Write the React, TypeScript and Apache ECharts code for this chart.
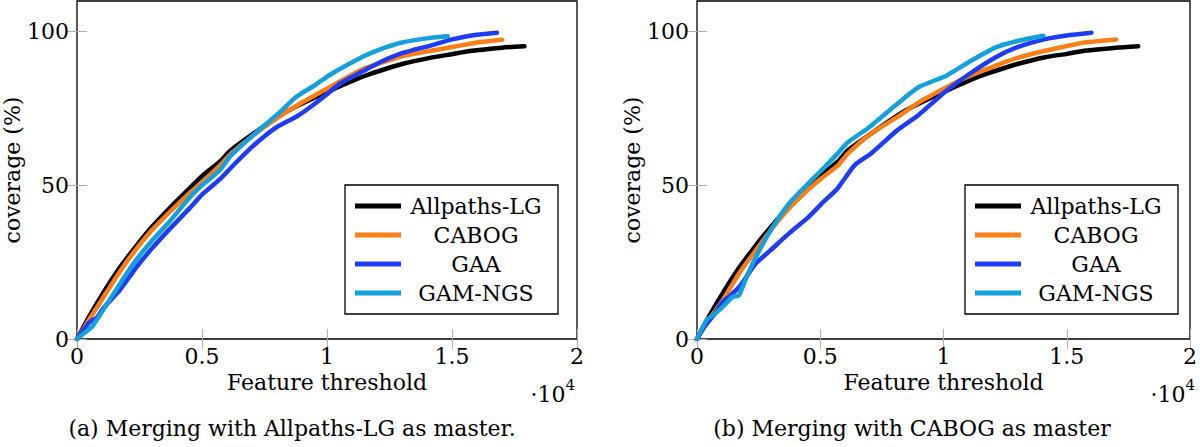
import React, { useEffect, useRef } from "react";
import * as echarts from "echarts";

const seriesNames = ["Allpaths-LG", "CABOG", "GAA", "GAM-NGS"];
const seriesColors = ["#000000", "#fd7e14", "#1f3cf5", "#14a0dc"];
const xTickValues = [0, 5000, 10000, 15000, 20000];
const yTickValues = [0, 50, 100];

// Panel (a): merging with Allpaths-LG as master
const allpathsA = [[0,0],[500,7.5],[1050,15],[1720,23.3],[2390,30.5],[3000,36.5],[3730,42.8],[4500,49],[5000,53],[5720,57.8],[6120,61.2],[7000,66.5],[8120,72.7],[8800,75.8],[10120,80.8],[11470,85.5],[12120,87.3],[13000,89.5],[14120,91.5],[15000,92.7],[15720,93.7],[17000,94.8],[17900,95.3]];
const cabogA = [[0,0],[500,6.5],[1050,13.5],[1720,22],[2390,29.5],[3000,35.5],[3730,41.5],[4500,47.5],[5000,51],[5720,56.5],[6120,60],[7000,66],[8120,72.5],[8800,76],[10120,82],[11470,88],[12120,89.8],[13000,92],[14150,93.8],[15000,95],[16000,96.5],[17000,97.4]];
const gaaA = [[0,0],[300,3.5],[500,5.5],[800,7],[1050,10],[1720,16],[2390,23.5],[3000,29.5],[3730,36],[4500,42.5],[5000,47],[5720,52],[6130,55.5],[7000,62.5],[7500,66],[8000,69],[8800,72.5],[9500,76.5],[10120,80.5],[10500,83],[11470,87.3],[12100,90],[13000,93],[14150,95.5],[15000,97.5],[16000,99],[16800,99.7]];
const gamA = [[0,0],[300,2],[600,4],[1050,9.5],[1720,18],[2390,26],[3000,32],[3730,38.5],[4500,46],[5000,50],[5720,55],[6130,59.5],[7000,66],[8000,73],[8800,79],[9500,82.5],[10120,86],[11470,92],[12100,94.2],[13000,96.5],[14150,98],[14830,98.5]];

// Panel (b): merging with CABOG as master
const allpathsB = [[0,0],[500,7.5],[1050,15],[1720,23.3],[2390,30.5],[3000,36.5],[3720,43],[4500,49],[5000,53],[5720,57.8],[6120,61.4],[7000,66.5],[8120,72.7],[8800,75.8],[10120,80.8],[11470,85.5],[12120,87.3],[13000,89.5],[14120,91.7],[15000,92.8],[15720,93.8],[17000,94.8],[17900,95.3]];
const cabogB = [[0,0],[500,6.5],[1050,12.7],[1720,21.5],[2390,28.9],[3000,35.5],[3720,42.4],[4500,48.5],[5000,52],[5720,56.5],[6120,60.3],[7000,66.5],[8120,72.2],[9000,77],[10120,81.9],[11000,85.5],[12120,89],[13000,91.5],[14120,93.8],[15000,95.3],[15720,96.5],[17000,97.5]];
const gaaB = [[0,0],[300,4],[600,7],[1050,12.1],[1400,14.5],[1720,17],[2390,24.6],[3000,29],[3720,34.3],[4500,39.5],[5050,44],[5700,49],[6390,56.5],[7050,60.3],[7500,63.5],[8120,67.9],[9000,73],[10120,80.8],[11000,86],[12120,91.7],[13000,95],[14120,97.6],[15000,98.8],[16000,99.7]];
const gamB = [[0,0],[390,6.2],[700,8],[1050,10.5],[1450,13.7],[1700,14.2],[2000,20],[2390,26.7],[3000,35.5],[3720,44],[4500,50.5],[5000,54.5],[5720,60.5],[6120,64],[7000,69],[8120,76.5],[9000,82],[10120,85.7],[11000,90],[12120,94.9],[13000,97],[14050,98.7]];

const panelData = [
  [allpathsA, cabogA, gaaA, gamA],
  [allpathsB, cabogB, gaaB, gamB],
];
const captions = ["(a) Merging with Allpaths-LG as master.", "(b) Merging with CABOG as master"];

const FONT = "DejaVu Serif";
const FS = 22;
const GRID_LEFTS = [77, 697];
const GRID_TOP = 1;
const GRID_W = 500;
const GRID_H = 338;
const CAPTION_X = [292, 912];

export default function App() {
  const ref = useRef<HTMLDivElement>(null);
  useEffect(() => {
    if (!ref.current) return;
    const chart = echarts.init(ref.current, undefined, { renderer: "svg" });
    const grids: any[] = [];
    const xAxes: any[] = [];
    const yAxes: any[] = [];
    const series: any[] = [];
    const legends: any[] = [];
    const graphics: any[] = [];
    const tickStyle = { show: true, inside: true, length: 10, lineStyle: { color: "#b0b0b0", width: 1 } };
    const txt = { color: "#000", fontFamily: FONT, fontSize: FS };
    panelData.forEach((panel, p) => {
      grids.push({
        left: GRID_LEFTS[p], top: GRID_TOP, width: GRID_W, height: GRID_H,
        show: true, borderColor: "#000", borderWidth: 1.3, backgroundColor: "transparent",
      });
      const xi = xAxes.length;
      xAxes.push({
        type: "value", gridIndex: p, min: 0, max: 20000, interval: 5000, position: "bottom",
        axisLine: { show: false },
        axisTick: { ...tickStyle, customValues: xTickValues },
        splitLine: { show: false },
        axisLabel: {
          customValues: xTickValues, margin: 6, ...txt,
          formatter: (v: number) => String(v / 10000),
        },
        name: "Feature threshold", nameLocation: "middle", nameGap: 22,
        nameTextStyle: { ...txt },
      });
      xAxes.push({
        type: "value", gridIndex: p, min: 0, max: 20000, interval: 5000, position: "top",
        axisLine: { show: false }, axisTick: { ...tickStyle, customValues: xTickValues },
        axisLabel: { show: false }, splitLine: { show: false },
      });
      const yi = yAxes.length;
      yAxes.push({
        type: "value", gridIndex: p, min: 0, max: 110, interval: 50, position: "left",
        axisLine: { show: false },
        axisTick: { ...tickStyle, customValues: yTickValues },
        splitLine: { show: false },
        axisLabel: { customValues: yTickValues, margin: 8, ...txt },
        name: "coverage (%)", nameLocation: "middle", nameGap: 46, nameRotate: 90,
        nameTextStyle: { ...txt },
      });
      yAxes.push({
        type: "value", gridIndex: p, min: 0, max: 110, interval: 50, position: "right",
        axisLine: { show: false }, axisTick: { ...tickStyle, customValues: yTickValues },
        axisLabel: { show: false }, splitLine: { show: false },
      });
      panel.forEach((d, i) => {
        series.push({
          type: "line", name: seriesNames[i], xAxisIndex: xi, yAxisIndex: yi,
          data: d, showSymbol: false, symbol: "none", smooth: 0.2,
          lineStyle: { color: seriesColors[i], width: 4.5, join: "round", cap: "round" },
          itemStyle: { color: seriesColors[i] },
          z: 2 + i,
        });
      });
      legends.push({
        orient: "vertical",
        left: GRID_LEFTS[p] + 268, top: 185,
        data: seriesNames,
        icon: "rect", itemWidth: 46, itemHeight: 5, itemGap: 7,
        padding: [10, 12, 10, 10],
        borderColor: "#000", borderWidth: 1.3, backgroundColor: "#fff",
        selectedMode: false,
        formatter: (name: string) => `{c|${name}}`,
        textStyle: {
          ...txt,
          rich: { c: { width: 140, align: "center", fontFamily: FONT, fontSize: FS, lineHeight: 24, color: "#000" } },
        },
      });
      graphics.push({
        type: "text", right: 1200 - (GRID_LEFTS[p] + GRID_W) + 2, top: 377,
        style: {
          text: "{a|·10}{s|4}",
          rich: {
            a: { fontFamily: FONT, fontSize: FS, fill: "#000", verticalAlign: "bottom" },
            s: { fontFamily: FONT, fontSize: 15, fill: "#000", verticalAlign: "top", padding: [0, 0, 13, 0] },
          },
        },
      });
      graphics.push({
        type: "text", x: CAPTION_X[p], y: 428,
        style: { text: captions[p], fontFamily: FONT, fontSize: FS, fill: "#000", align: "center", verticalAlign: "middle" },
      });
    });
    chart.setOption({
      animation: false,
      backgroundColor: "#fff",
      grid: grids, xAxis: xAxes, yAxis: yAxes, series, legend: legends, graphic: graphics,
    });
    return () => chart.dispose();
  }, []);
  return <div ref={ref} style={{ position: "fixed", left: 0, top: 0, width: 1200, height: 447 }} />;
}
